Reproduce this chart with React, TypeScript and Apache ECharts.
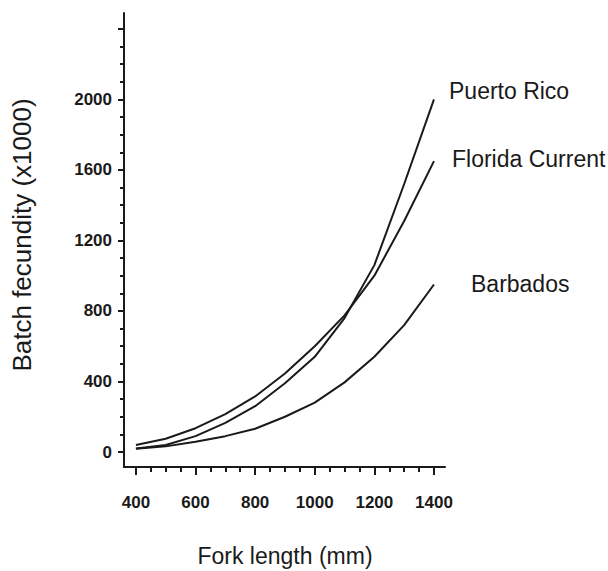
import React, { useEffect, useRef } from "react";
import * as echarts from "echarts";

const forkLength = [400, 500, 600, 700, 800, 900, 1000, 1100, 1200, 1300, 1400];
const puertoRico = [20, 40, 90, 165, 260, 390, 540, 760, 1060, 1520, 2000];
const floridaCurrent = [40, 75, 135, 215, 315, 445, 600, 775, 1000, 1310, 1650];
const barbados = [18, 32, 58, 90, 132, 200, 280, 395, 540, 720, 950];

const xMajorTicks = [400, 600, 800, 1000, 1200, 1400];
const xMinorTicks = [400, 450, 500, 550, 600, 650, 700, 750, 800, 850, 900, 950, 1000, 1050, 1100, 1150, 1200, 1250, 1300, 1350, 1400];
const yLabelTicks = [0, 400, 800, 1200, 1600, 2000];
const yMajorTicks = [0, 400, 800, 1200, 1600, 2000, 2400];
const yMinorTicks = [0, 100, 200, 300, 400, 500, 600, 700, 800, 900, 1000, 1100, 1200, 1300, 1400, 1500, 1600, 1700, 1800, 1900, 2000, 2100, 2200, 2300, 2400];

const seriesNames = ["Puerto Rico", "Florida Current", "Barbados"];

const FONT = "'Liberation Sans', Arial, sans-serif";
const INK = "#1a1a1a";

export default function App() {
  const ref = useRef<HTMLDivElement>(null);

  useEffect(() => {
    if (!ref.current) return;
    const chart = echarts.init(ref.current, null, { renderer: "svg" });
    const pairs = (ys: number[]) => forkLength.map((x, i) => [x, ys[i]]);
    const xMin = 360, xMax = 1437, yMin = -85, yMax = 2490;
    const plain = (v: number) => String(v);
    chart.setOption({
      animation: false,
      backgroundColor: "#ffffff",
      grid: { left: 124, top: 13, width: 321, height: 454, containLabel: false },
      xAxis: [
        {
          type: "value", min: xMin, max: xMax, position: "bottom",
          axisLine: { show: true, onZero: false, lineStyle: { color: INK, width: 2 } },
          axisTick: { show: true, customValues: xMajorTicks, length: 8, lineStyle: { color: INK, width: 2 } },
          axisLabel: { customValues: xMajorTicks, formatter: plain, margin: 27, fontSize: 17, fontWeight: "bold", color: INK, fontFamily: FONT },
          splitLine: { show: false },
        },
        {
          type: "value", min: xMin, max: xMax, position: "bottom",
          axisLine: { show: false, onZero: false },
          axisTick: { show: true, customValues: xMinorTicks, length: 5, lineStyle: { color: INK, width: 2 } },
          axisLabel: { show: false },
          splitLine: { show: false },
        },
      ],
      yAxis: [
        {
          type: "value", min: yMin, max: yMax, position: "left",
          axisLine: { show: true, onZero: false, lineStyle: { color: INK, width: 2 } },
          axisTick: { show: true, customValues: yMajorTicks, length: 6, lineStyle: { color: INK, width: 2 } },
          axisLabel: { customValues: yLabelTicks, formatter: plain, margin: 12, fontSize: 17, fontWeight: "bold", color: INK, fontFamily: FONT },
          splitLine: { show: false },
        },
        {
          type: "value", min: yMin, max: yMax, position: "left",
          axisLine: { show: false, onZero: false },
          axisTick: { show: true, customValues: yMinorTicks, length: 4, lineStyle: { color: INK, width: 2 } },
          axisLabel: { show: false },
          splitLine: { show: false },
        },
      ],
      series: [puertoRico, floridaCurrent, barbados].map((ys, i) => ({
        name: seriesNames[i],
        type: "line",
        data: pairs(ys),
        showSymbol: false,
        symbol: "none",
        smooth: false,
        lineStyle: { color: INK, width: 2 },
        xAxisIndex: 0,
        yAxisIndex: 0,
      })),
      graphic: [
        { type: "text", x: 449, y: 91, style: { text: seriesNames[0], font: `23px ${FONT}`, fill: INK, textAlign: "left", textVerticalAlign: "middle" } },
        { type: "text", x: 452, y: 159, style: { text: seriesNames[1], font: `23px ${FONT}`, fill: INK, textAlign: "left", textVerticalAlign: "middle" } },
        { type: "text", x: 471, y: 284, style: { text: seriesNames[2], font: `23px ${FONT}`, fill: INK, textAlign: "left", textVerticalAlign: "middle" } },
        { type: "text", x: 285, y: 556, style: { text: "Fork length (mm)", font: `23px ${FONT}`, fill: INK, textAlign: "center", textVerticalAlign: "middle" } },
        { type: "text", x: 22, y: 235, rotation: Math.PI / 2, style: { text: "Batch fecundity (x1000)", font: `26px ${FONT}`, fill: INK, textAlign: "center", textVerticalAlign: "middle" } },
      ],
    });
    return () => chart.dispose();
  }, []);

  return <div ref={ref} style={{ position: "absolute", left: 0, top: 0, width: 608, height: 571 }} />;
}
